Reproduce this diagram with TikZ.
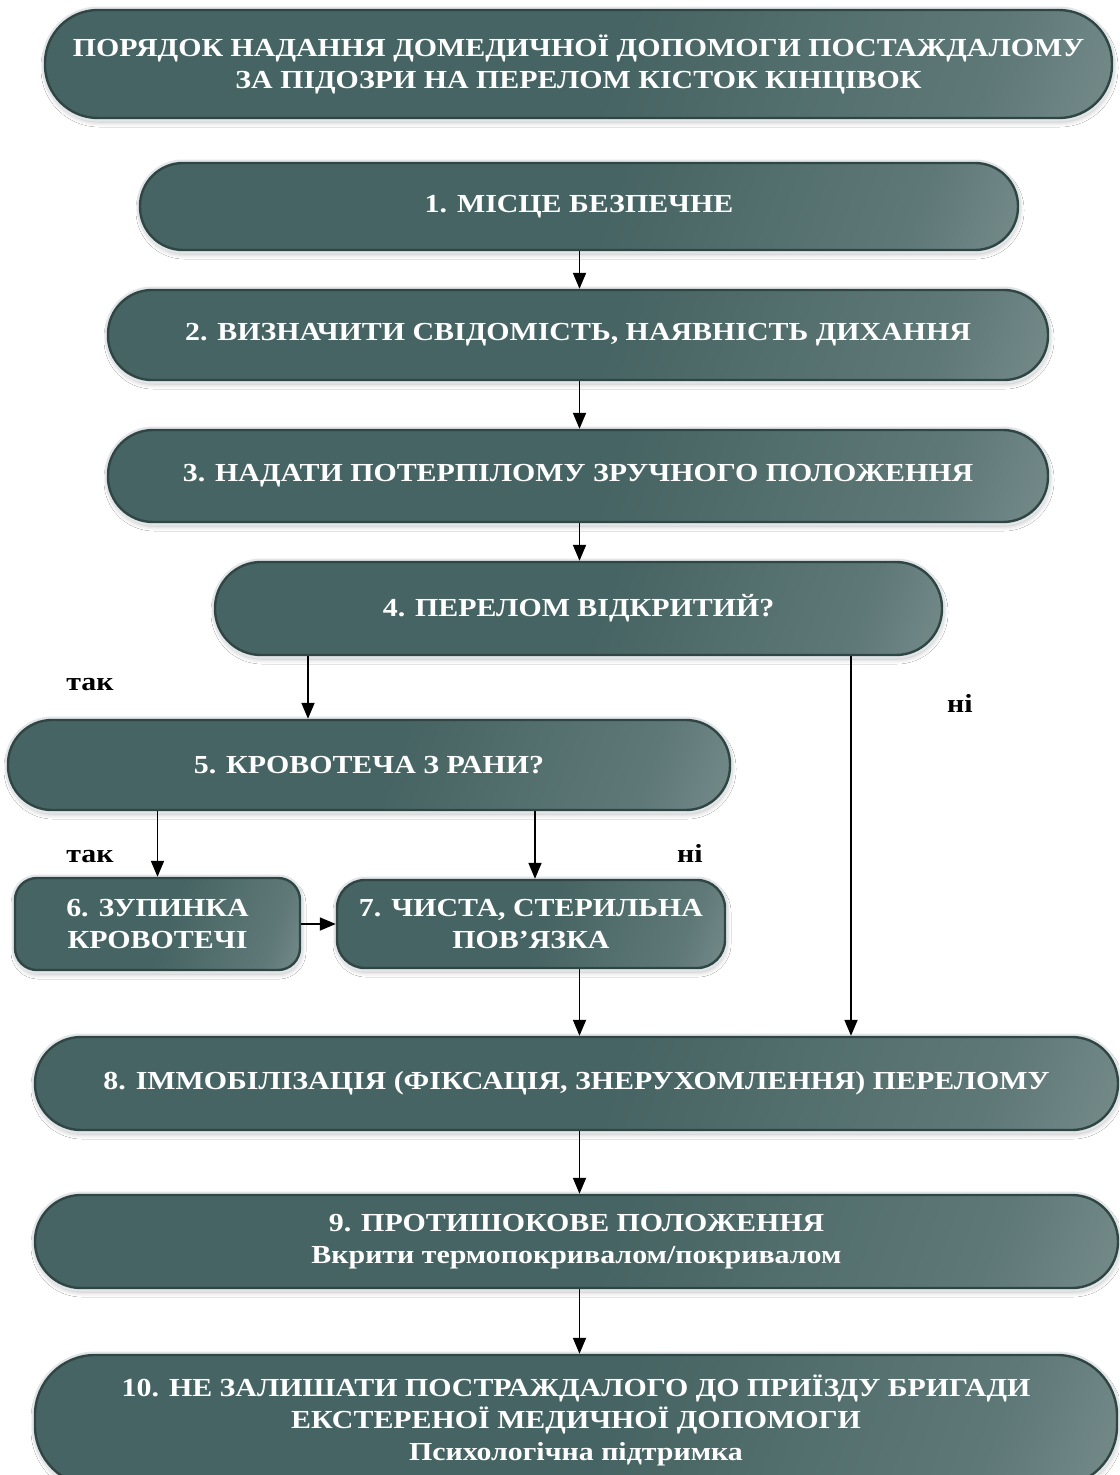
\documentclass[tikz,border=0pt]{standalone}
\usepackage{fontspec}
\setmainfont[FakeStretch=1.15]{Liberation Serif}
\usetikzlibrary{shadows.blur,arrows.meta}

\definecolor{pillDark}{HTML}{466463}
\definecolor{pillMid}{HTML}{5E7877}
\definecolor{pillLight}{HTML}{A4B3B2}
\definecolor{rimDark}{HTML}{2F4645}
\definecolor{rimLight}{HTML}{E2E6E9}

\pgfdeclarehorizontalshading{pillshade}{100bp}{color(0bp)=(pillDark); color(52bp)=(pillDark); color(74bp)=(pillMid); color(100bp)=(pillLight)}

\newcommand\pillfont{\bfseries\fontsize{26}{32}\selectfont}

\begin{document}
\begin{tikzpicture}[x=1pt,y=-1pt,
  pillbase/.style={draw=rimDark, line width=2.4pt, shading=pillshade, shading angle=-20,
    blur shadow={shadow xshift=1pt, shadow yshift=-4pt, shadow blur radius=5pt, shadow opacity=28},
    preaction={draw=rimLight, line width=7pt},
    text=white, font=\pillfont, align=center, inner sep=0pt},
  pill/.style n args={3}{pillbase, minimum width=#1, minimum height=#2, rounded corners=#3},
  arr/.style={-{Triangle[length=16pt,width=13pt]}, line width=1.8pt, black},
  answer/.style={font=\pillfont, text=black, anchor=base, inner sep=0pt}]

\useasboundingbox[fill=white] (0,0) rectangle (1119,1475);

% title
\node[pill={1067pt}{108pt}{53pt}] (title) at (578.5,64)
  {ПОРЯДОК НАДАННЯ ДОМЕДИЧНОЇ ДОПОМОГИ ПОСТАЖДАЛОМУ\\ЗА ПІДОЗРИ НА ПЕРЕЛОМ КІСТОК КІНЦІВОК};

% steps
\node[pill={878pt}{87pt}{43pt}] (b1) at (579,206.5) {1. МІСЦЕ БЕЗПЕЧНЕ};
\node[pill={940pt}{90pt}{44pt}] (b2) at (578,335) {2. ВИЗНАЧИТИ СВІДОМІСТЬ, НАЯВНІСТЬ ДИХАННЯ};
\node[pill={940pt}{92pt}{45pt}] (b3) at (578,476) {3. НАДАТИ ПОТЕРПІЛОМУ ЗРУЧНОГО ПОЛОЖЕННЯ};
\node[pill={727pt}{93pt}{46pt}] (b4) at (578.5,608.5) {4. ПЕРЕЛОМ ВІДКРИТИЙ?};
\node[pill={722pt}{90pt}{44pt}] (b5) at (369,765) {5. КРОВОТЕЧА З РАНИ?};
\node[pill={285pt}{92pt}{22pt}] (b6) at (157.5,924) {6. ЗУПИНКА\\КРОВОТЕЧІ};
\node[pill={388pt}{88pt}{28pt}] (b7) at (531,924) {7. ЧИСТА, СТЕРИЛЬНА\\ПОВ’ЯЗКА};
\node[pill={1083pt}{93pt}{46pt}] (b8) at (576.5,1083.5) {8. ІММОБІЛІЗАЦІЯ (ФІКСАЦІЯ, ЗНЕРУХОМЛЕННЯ) ПЕРЕЛОМУ};
\node[pill={1083pt}{93pt}{46pt}] (b9) at (576.5,1241.5)
  {9. ПРОТИШОКОВЕ ПОЛОЖЕННЯ\\Вкрити термопокривалом/покривалом};
% the last step runs past the lower edge of the page
\node[pill={1082pt}{131pt}{60pt}] (b10) at (576,1420.5)
  {10. НЕ ЗАЛИШАТИ ПОСТРАЖДАЛОГО ДО ПРИЇЗДУ БРИГАДИ\\ЕКСТЕРЕНОЇ МЕДИЧНОЇ ДОПОМОГИ\\Психологічна підтримка};

% columns of the arrows
\coordinate (xyes) at (308,0);
\coordinate (xno) at (851,0);
\coordinate (xdress) at (535,0);
\coordinate (xmain) at (579.5,0);

% connectors
\draw[arr] (b1.south -| xmain) -- (b2.north -| xmain);
\draw[arr] (b2.south -| xmain) -- (b3.north -| xmain);
\draw[arr] (b3.south -| xmain) -- (b4.north -| xmain);
\draw[arr] (b4.south -| xyes) -- (b5.north -| xyes);
\draw[arr] (b4.south -| xno) -- (b8.north -| xno);
\draw[arr] (b5.south -| b6.north) -- (b6.north);
\draw[arr] (b5.south -| xdress) -- (b7.north -| xdress);
\draw[arr] (b6) -- (b7);
\draw[arr] (b7.south -| xmain) -- (b8.north -| xmain);
\draw[arr] (b8.south -| xmain) -- (b9.north -| xmain);
\draw[arr] (b9.south -| xmain) -- (b10.north -| xmain);

% branch labels
\node[answer] (yes1) at (90,690) {так};
\node[answer] (yes2) at (90,862) {так};
\node[answer] (no1) at (960,712) {ні};
\node[answer] (no2) at (690,862) {ні};
\end{tikzpicture}
\end{document}
